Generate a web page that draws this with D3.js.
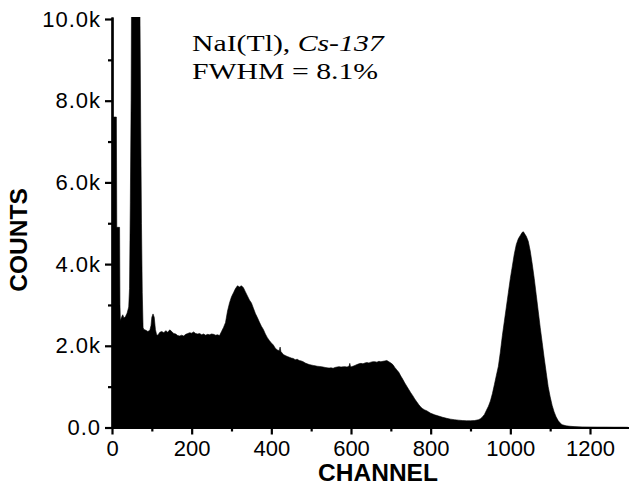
<!DOCTYPE html>
<html>
<head>
<meta charset="utf-8">
<script src="https://cdn.jsdelivr.net/npm/d3@7"></script>
<style>
  body { margin: 0; background: #fff; }
  svg { display: block; }
</style>
</head>
<body>
<svg width="629" height="493"></svg>
<script>
// spectrum (channel -> counts)
var channel = [0, 2, 3, 11, 12, 19, 20, 21, 24, 27, 30, 34, 38, 42, 44, 46, 48, 49, 70, 72, 74, 76, 78,
  80, 85, 90, 95, 98, 100, 103, 106, 109, 112, 115, 120, 125, 130, 135, 140, 145, 150, 155, 160, 165, 170, 175,
  180, 185, 190, 195, 200, 205, 210, 215, 220, 225, 230, 235, 240, 245, 250, 255, 260, 265, 270, 275, 280, 285,
  290, 295, 300, 305, 310, 315, 320, 325, 330, 335, 340, 345, 350, 355, 360, 365, 370, 375, 380, 385, 390, 395,
  400, 405, 410, 415, 420, 422, 424, 430, 435, 440, 445, 450, 455, 460, 465, 470, 475, 480, 485, 490, 495, 500,
  505, 510, 515, 520, 525, 530, 535, 540, 545, 550, 555, 560, 565, 570, 575, 580, 585, 590, 595, 597, 599, 605,
  610, 615, 620, 625, 630, 635, 640, 645, 650, 655, 660, 665, 670, 675, 680, 685, 690, 695, 700, 705, 710, 715,
  720, 725, 730, 735, 740, 745, 750, 755, 760, 765, 770, 775, 780, 785, 790, 795, 800, 810, 820, 830, 840, 850,
  860, 870, 880, 890, 900, 910, 920, 925, 930, 935, 940, 945, 950, 955, 960, 965, 970, 975, 980, 985, 990, 995,
  1000, 1005, 1010, 1015, 1020, 1025, 1030, 1033, 1036, 1040, 1045, 1050, 1055, 1060, 1065, 1070, 1075, 1080,
  1085, 1090, 1095, 1100, 1105, 1110, 1115, 1120, 1125, 1130, 1140, 1150, 1160, 1170, 1180, 1200, 1220, 1240,
  1260, 1280, 1295];
var counts = [0, 0, 7600, 7600, 4900, 4900, 3000, 2620, 2700, 2760, 2680, 2720, 2800, 2950, 3400, 5500, 8000, 10400, 10400, 7500, 5000, 3300, 2450,
  2400, 2380, 2350, 2380, 2500, 2700, 2780, 2700, 2400, 2270, 2260, 2330, 2350, 2320, 2370, 2330, 2390, 2350, 2300, 2290, 2250, 2240, 2260,
  2240, 2280, 2300, 2320, 2310, 2340, 2300, 2290, 2300, 2270, 2290, 2260, 2280, 2270, 2290, 2280, 2260, 2270, 2250, 2350, 2450, 2570,
  2850, 3050, 3200, 3300, 3400, 3470, 3440, 3470, 3420, 3320, 3220, 3120, 3050, 2920, 2790, 2690, 2580, 2480, 2400, 2290, 2200, 2130,
  2070, 2020, 1940, 1900, 1880, 1970, 1860, 1790, 1760, 1740, 1720, 1700, 1690, 1660, 1670, 1640, 1630, 1610, 1580, 1560, 1540, 1530,
  1520, 1510, 1500, 1495, 1490, 1480, 1470, 1460, 1455, 1460, 1450, 1470, 1480, 1490, 1480, 1485, 1490, 1480, 1500, 1570, 1480, 1500,
  1520, 1540, 1560, 1570, 1560, 1580, 1590, 1580, 1600, 1610, 1610, 1600, 1620, 1610, 1620, 1630, 1640, 1610, 1580, 1540, 1470, 1410,
  1350, 1260, 1180, 1090, 1010, 930, 850, 780, 700, 630, 560, 500, 460, 430, 410, 380, 350, 310, 280, 250, 225, 205,
  190, 180, 170, 165, 165, 170, 190, 215, 260, 320, 420, 520, 650, 830, 1050, 1280, 1500, 1850, 2250, 2600, 2950, 3300,
  3650, 3950, 4250, 4480, 4620, 4700, 4780, 4790, 4740, 4680, 4560, 4320, 4000, 3650, 3250, 2850, 2450, 2080,
  1700, 1350, 1000, 750, 540, 380, 260, 170, 110, 70, 40, 30, 22, 18, 15, 12, 10, 10,
  8, 8, 6];

var xMajor = [0, 200, 400, 600, 800, 1000, 1200];
var xMinor = [100, 300, 500, 700, 900, 1100];
var yMajor = [0, 2000, 4000, 6000, 8000, 10000];
var yMinor = [1000, 3000, 5000, 7000, 9000];

var svg = d3.select("svg");

var x = d3.scaleLinear().domain([0, 1300]).range([112, 112 + 478 * 1300 / 1200]);
var y = d3.scaleLinear().domain([0, 10050]).range([427.5, 427.5 - 408.5 * 1.005]);

var data = channel.map(function(c, i) { return {c: c, v: counts[i]}; });

svg.append("clipPath").attr("id", "plotclip")
  .append("rect")
    .attr("x", x(0)).attr("y", y(10050))
    .attr("width", x(1300) - x(0)).attr("height", y(0) - y(10050));

var area = d3.area()
  .x(function(d) { return x(d.c); })
  .y0(y(0))
  .y1(function(d) { return y(d.v); });

svg.append("path")
  .datum(data)
  .attr("clip-path", "url(#plotclip)")
  .attr("fill", "#000")
  .attr("stroke", "#000")
  .attr("stroke-width", 0.6)
  .attr("d", area);

function fmtY(d) { return d === 0 ? "0.0" : (d / 1000).toFixed(1) + "k"; }

// minor ticks first so the major axis draws over them
svg.append("g")
  .attr("class", "axis")
  .attr("transform", "translate(" + x(0) + ",0)")
  .call(d3.axisLeft(y).tickValues(yMinor).tickSize(4).tickSizeOuter(0).tickFormat(""));

svg.append("g")
  .attr("class", "axis")
  .attr("transform", "translate(0," + y(0) + ")")
  .call(d3.axisBottom(x).tickValues(xMinor).tickSize(4).tickSizeOuter(0).tickFormat(""));

var yAx = svg.append("g")
  .attr("class", "axis major")
  .attr("transform", "translate(" + x(0) + ",0)")
  .call(d3.axisLeft(y).tickValues(yMajor).tickSize(7).tickSizeOuter(0).tickPadding(4).tickFormat(fmtY));

svg.append("g")
  .attr("class", "axis major")
  .attr("transform", "translate(0," + y(0) + ")")
  .call(d3.axisBottom(x).tickValues(xMajor).tickSize(7).tickSizeOuter(0).tickPadding(6).tickFormat(d3.format("d")));

svg.selectAll(".axis path, .axis line")
  .attr("stroke", "#000")
  .attr("stroke-width", 2.2);

svg.selectAll(".axis text")
  .attr("fill", "#000")
  .style("font-family", "'Liberation Sans', Arial, sans-serif")
  .style("font-size", "22px");

yAx.selectAll("text").style("letter-spacing", "1px");

svg.append("text")
  .attr("x", 378)
  .attr("y", 481)
  .attr("text-anchor", "middle")
  .style("font-family", "'Liberation Sans', Arial, sans-serif")
  .style("font-weight", "bold")
  .style("font-size", "24.5px")
  .text("CHANNEL");

svg.append("text")
  .attr("transform", "translate(27,240) rotate(-90)")
  .attr("text-anchor", "middle")
  .style("font-family", "'Liberation Sans', Arial, sans-serif")
  .style("font-weight", "bold")
  .style("font-size", "24.5px")
  .text("COUNTS");

// two-line note, widened a little like the reference
var noteFont = "'Liberation Serif', 'Times New Roman', serif";

var line1 = svg.append("text")
  .attr("transform", "translate(192,51) scale(1.24,1)")
  .style("font-family", noteFont)
  .style("font-size", "24px");
line1.append("tspan").text("NaI(Tl), ");
line1.append("tspan").style("font-style", "italic").text("Cs-137");

svg.append("text")
  .attr("transform", "translate(192,79) scale(1.24,1)")
  .style("font-family", noteFont)
  .style("font-size", "24px")
  .text("FWHM = 8.1%");
</script>
</body>
</html>
